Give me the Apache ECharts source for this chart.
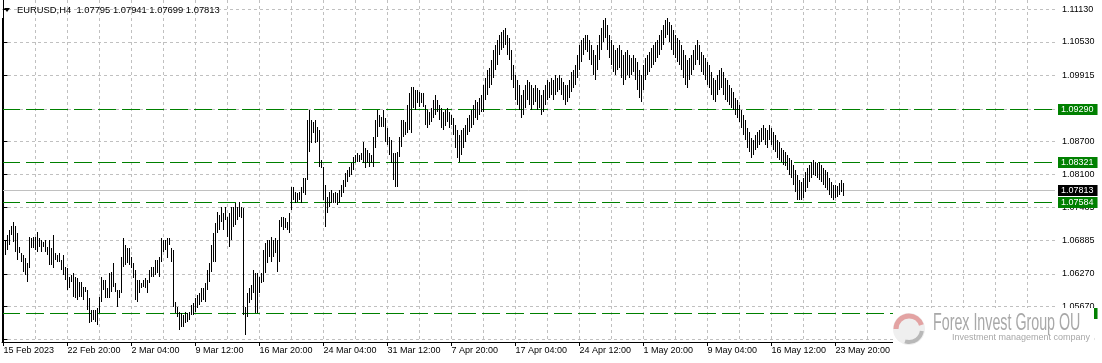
<!DOCTYPE html>
<html><head><meta charset="utf-8">
<script src="https://cdn.jsdelivr.net/npm/echarts@6/dist/echarts.min.js"></script>
<style>html,body{margin:0;padding:0;background:#fff}#c{width:1102px;height:363px}</style>
</head><body><div id="c"></div>
<script>
// ---- data ----
const symbolTitle = 'EURUSD,H4';
const lastBarOHLC = ['1.07795', '1.07941', '1.07699', '1.07813'];
const dateLabels = ['15 Feb 2023','22 Feb 20:00','2 Mar 04:00','9 Mar 12:00','16 Mar 20:00','24 Mar 04:00','31 Mar 12:00','7 Apr 20:00','17 Apr 04:00','24 Apr 12:00','1 May 20:00','9 May 04:00','16 May 12:00','23 May 20:00'];
const barsPerLabel = 32;
const barsPerGrid = 16;
const priceTicks = [1.11130,1.10530,1.09915,1.09290,1.08700,1.08100,1.07485,1.06885,1.06270,1.05670,1.05070];
const levelLines = [1.09290, 1.08321, 1.07584, 1.05545];
const bidPrice = 1.07813;
const highs = [
1.0733,1.0689,1.0698,1.0708,1.0715,1.0722,1.0715,1.0702,1.0676,1.0665,1.0662,1.0656,1.0647,1.0695,1.0693,1.0695,
1.0695,1.0704,1.0693,1.0689,1.0686,1.0689,1.0676,1.0689,1.0675,1.0698,1.0665,1.0662,1.0665,1.0652,1.0662,1.0640,
1.0638,1.0621,1.0625,1.0629,1.0621,1.0619,1.0612,1.0612,1.0603,1.0603,1.0597,1.0583,1.0561,1.0561,1.0561,1.0564,
1.0584,1.0621,1.0616,1.0616,1.0601,1.0629,1.0630,1.0647,1.0610,1.0597,1.0597,1.0658,1.0693,1.0680,1.0675,1.0675,
1.0658,1.0647,1.0634,1.0616,1.0616,1.0610,1.0616,1.0619,1.0616,1.0634,1.0640,1.0640,1.0652,1.0652,1.0658,1.0693,
1.0689,1.0689,1.0693,1.0693,1.0675,1.0671,1.0575,1.0566,1.0557,1.0555,1.0551,1.0557,1.0555,1.0557,1.0570,1.0573,
1.0583,1.0588,1.0592,1.0601,1.0601,1.0610,1.0634,1.0647,1.0680,1.0702,1.0720,1.0741,1.0735,1.0750,1.0739,1.0750,
1.0731,1.0739,1.0750,1.0750,1.0757,1.0750,1.0759,1.0750,1.0748,1.0566,1.0592,1.0601,1.0607,1.0634,1.0629,1.0629,
1.0621,1.0629,1.0671,1.0684,1.0689,1.0689,1.0695,1.0689,1.0693,1.0689,1.0726,1.0731,1.0731,1.0730,1.0722,1.0739,
1.0787,1.0787,1.0777,1.0775,1.0777,1.0787,1.0803,1.0803,1.0910,1.0928,1.0910,1.0906,1.0910,1.0897,1.0891,1.0836,
1.0823,1.0790,1.0768,1.0777,1.0781,1.0775,1.0777,1.0775,1.0781,1.0790,1.0799,1.0812,1.0818,1.0823,1.0831,1.0842,
1.0845,1.0849,1.0845,1.0849,1.0869,1.0858,1.0855,1.0849,1.0845,1.0878,1.0910,1.0928,1.0919,1.0915,1.0928,1.0913,
1.0895,1.0878,1.0873,1.0849,1.0849,1.0851,1.0878,1.0910,1.0910,1.0906,1.0937,1.0959,1.0970,1.0970,1.0965,1.0965,
1.0961,1.0959,1.0959,1.0937,1.0928,1.0924,1.0932,1.0946,1.0956,1.0946,1.0937,1.0932,1.0924,1.0928,1.0932,1.0924,
1.0919,1.0913,1.0900,1.0891,1.0882,1.0891,1.0895,1.0900,1.0913,1.0919,1.0928,1.0937,1.0946,1.0943,1.0950,1.0956,
1.0974,1.0987,1.1002,1.1005,1.1020,1.1038,1.1047,1.1057,1.1066,1.1071,1.1075,1.1079,1.1066,1.1060,1.1038,1.1011,
1.0992,1.0983,1.0974,1.0956,1.0965,1.0974,1.0983,1.0979,1.0974,1.0968,1.0974,1.0968,1.0965,1.0956,1.0965,1.0974,
1.0983,1.0979,1.0987,1.0983,1.0992,1.0987,1.0992,1.0987,1.0979,1.0974,1.0974,1.0983,1.0998,1.1002,1.1011,1.1029,
1.1047,1.1057,1.1060,1.1066,1.1066,1.1057,1.1047,1.1038,1.1029,1.1047,1.1066,1.1079,1.1093,1.1097,1.1084,1.1066,
1.1057,1.1047,1.1038,1.1042,1.1047,1.1038,1.1029,1.1035,1.1038,1.1029,1.1024,1.1029,1.1024,1.1016,1.1002,1.0992,
1.1011,1.1024,1.1029,1.1035,1.1042,1.1047,1.1053,1.1057,1.1066,1.1075,1.1084,1.1093,1.1097,1.1090,1.1084,1.1075,
1.1066,1.1060,1.1057,1.1047,1.1038,1.1029,1.1020,1.1024,1.1029,1.1038,1.1047,1.1057,1.1047,1.1035,1.1029,1.1024,
1.1016,1.1011,1.0998,1.0987,1.0983,1.0992,1.1002,1.1005,1.0998,1.0987,1.0983,1.0974,1.0968,1.0961,1.0950,1.0946,
1.0937,1.0928,1.0919,1.0910,1.0895,1.0888,1.0877,1.0873,1.0882,1.0888,1.0891,1.0895,1.0900,1.0895,1.0891,1.0900,
1.0895,1.0888,1.0882,1.0873,1.0869,1.0858,1.0855,1.0851,1.0845,1.0840,1.0836,1.0827,1.0818,1.0809,1.0799,1.0796,
1.0803,1.0814,1.0821,1.0827,1.0832,1.0836,1.0832,1.0831,1.0832,1.0827,1.0821,1.0818,1.0814,1.0803,1.0796,1.0790,
1.0790,1.0788,1.0794,1.0799,1.0794
];
const lows = [
1.0671,1.0662,1.0671,1.0680,1.0698,1.0686,1.0667,1.0652,1.0665,1.0649,1.0630,1.0625,1.0612,1.0638,1.0675,1.0675,
1.0671,1.0667,1.0676,1.0667,1.0676,1.0667,1.0662,1.0643,1.0643,1.0638,1.0652,1.0649,1.0649,1.0634,1.0625,1.0616,
1.0597,1.0601,1.0612,1.0584,1.0583,1.0579,1.0584,1.0584,1.0579,1.0594,1.0561,1.0537,1.0539,1.0542,1.0539,1.0533,
1.0555,1.0575,1.0597,1.0583,1.0583,1.0583,1.0594,1.0603,1.0594,1.0566,1.0583,1.0592,1.0640,1.0643,1.0647,1.0643,
1.0638,1.0619,1.0579,1.0575,1.0592,1.0601,1.0603,1.0601,1.0592,1.0610,1.0621,1.0621,1.0625,1.0629,1.0621,1.0649,
1.0667,1.0671,1.0656,1.0680,1.0649,1.0566,1.0555,1.0548,1.0524,1.0529,1.0529,1.0537,1.0539,1.0542,1.0551,1.0551,
1.0557,1.0564,1.0570,1.0575,1.0579,1.0575,1.0597,1.0612,1.0630,1.0649,1.0649,1.0702,1.0708,1.0722,1.0708,1.0726,
1.0695,1.0676,1.0689,1.0713,1.0717,1.0726,1.0731,1.0730,1.0551,1.0515,1.0548,1.0573,1.0579,1.0592,1.0555,1.0555,
1.0592,1.0610,1.0612,1.0629,1.0647,1.0658,1.0649,1.0658,1.0665,1.0630,1.0649,1.0713,1.0708,1.0711,1.0708,1.0702,
1.0744,1.0763,1.0757,1.0759,1.0763,1.0757,1.0775,1.0772,1.0799,1.0851,1.0867,1.0886,1.0867,1.0869,1.0823,1.0822,
1.0763,1.0713,1.0739,1.0750,1.0757,1.0757,1.0757,1.0754,1.0757,1.0768,1.0775,1.0787,1.0796,1.0805,1.0809,1.0818,
1.0833,1.0833,1.0833,1.0836,1.0831,1.0822,1.0831,1.0823,1.0831,1.0823,1.0858,1.0878,1.0897,1.0897,1.0897,1.0869,
1.0864,1.0845,1.0831,1.0799,1.0787,1.0787,1.0842,1.0860,1.0878,1.0882,1.0886,1.0891,1.0886,1.0932,1.0928,1.0941,
1.0934,1.0941,1.0934,1.0900,1.0895,1.0900,1.0906,1.0913,1.0919,1.0924,1.0910,1.0895,1.0891,1.0899,1.0906,1.0895,
1.0900,1.0882,1.0858,1.0840,1.0832,1.0845,1.0858,1.0869,1.0882,1.0888,1.0895,1.0900,1.0913,1.0910,1.0919,1.0924,
1.0924,1.0946,1.0956,1.0968,1.0974,1.0987,1.1002,1.1011,1.1029,1.1038,1.1042,1.1047,1.1029,1.1020,1.0983,1.0968,
1.0946,1.0937,1.0928,1.0913,1.0919,1.0932,1.0946,1.0937,1.0928,1.0937,1.0943,1.0928,1.0932,1.0919,1.0924,1.0937,
1.0946,1.0950,1.0956,1.0946,1.0956,1.0961,1.0965,1.0956,1.0946,1.0937,1.0943,1.0950,1.0961,1.0968,1.0974,1.0987,
1.1002,1.1016,1.1029,1.1038,1.1035,1.1020,1.1011,1.0992,1.0983,1.1002,1.1020,1.1038,1.1053,1.1060,1.1038,1.1024,
1.1011,1.0998,1.0992,1.1002,1.1005,1.0987,1.0974,1.0983,1.0992,1.0987,1.0992,1.0998,1.0983,1.0965,1.0950,1.0943,
1.0965,1.0983,1.0992,1.0998,1.1005,1.1011,1.1016,1.1024,1.1029,1.1038,1.1047,1.1060,1.1066,1.1053,1.1038,1.1029,
1.1024,1.1016,1.1011,1.1002,1.0987,1.0974,1.0968,1.0983,1.0992,1.1002,1.1011,1.1020,1.1011,1.0998,1.0992,1.0983,
1.0974,1.0968,1.0956,1.0946,1.0943,1.0956,1.0965,1.0968,1.0956,1.0946,1.0943,1.0937,1.0932,1.0928,1.0919,1.0913,
1.0906,1.0895,1.0882,1.0873,1.0858,1.0851,1.0840,1.0845,1.0855,1.0858,1.0864,1.0869,1.0873,1.0864,1.0858,1.0873,
1.0864,1.0855,1.0851,1.0840,1.0836,1.0832,1.0827,1.0825,1.0818,1.0809,1.0803,1.0790,1.0777,1.0763,1.0763,1.0763,
1.0766,1.0777,1.0785,1.0796,1.0803,1.0809,1.0807,1.0803,1.0799,1.0796,1.0790,1.0785,1.0781,1.0772,1.0766,1.0763,
1.0766,1.0768,1.0772,1.0777,1.0770
];

// ---- derived ----
const labelBars = dateLabels.map((_, k) => k * barsPerLabel);
const gridBars = [];
for (let v = barsPerGrid; v <= 525; v += barsPerGrid) gridBars.push(v);
const barData = highs.map((h, i) => [i, h, lows[i]]);
const FONT = "'Liberation Sans', Arial, sans-serif";

const chart = echarts.init(document.getElementById('c'), null, {renderer: 'canvas'});

function levelRender(color, dash, boxColor) {
  return (params, api) => {
    const cs = params.coordSys;
    const v = api.value(1);
    const y = Math.round(api.coord([0, v])[1]) + 0.5;
    const x1 = cs.x, x2 = cs.x + cs.width;
    return {type: 'group', children: [
      {type: 'line', shape: {x1: x1, y1: y, x2: x2, y2: y},
       style: {stroke: color, lineWidth: 1, lineDash: dash}},
      {type: 'text', x: x2 + 3, y: y, style: {text: v.toFixed(5), fill: '#fff', font: '9px ' + FONT,
        verticalAlign: 'middle', backgroundColor: boxColor, padding: [1, 4, 1, 3]}}
    ]};
  };
}

const option = {
  animation: false,
  backgroundColor: '#fff',
  grid: {left: 2, right: 47, top: 0, bottom: 21},
  xAxis: [
    {type: 'value', min: -0.75, max: 525.75, position: 'bottom',
     axisLine: {show: false}, axisTick: {show: false, customValues: gridBars},
     axisLabel: {show: false, customValues: gridBars},
     splitLine: {show: true, lineStyle: {color: '#c0c0c0', type: [3, 3], width: 1}}},
    {type: 'value', min: -0.75, max: 525.75, position: 'bottom',
     axisLine: {show: true, lineStyle: {color: '#000', width: 1}},
     axisTick: {show: true, customValues: labelBars, length: 4, lineStyle: {color: '#000'}},
     axisLabel: {customValues: labelBars, formatter: v => dateLabels[Math.round(v / barsPerLabel)],
       align: 'left', margin: 4, fontSize: 9, color: '#000', fontFamily: FONT},
     splitLine: {show: false}}
  ],
  yAxis: {type: 'value', position: 'right', min: 1.05018, max: 1.11301,
    axisLine: {show: true, lineStyle: {color: '#000', width: 1}},
    axisTick: {show: true, customValues: priceTicks, length: 4, lineStyle: {color: '#000'}},
    axisLabel: {customValues: priceTicks, formatter: v => v.toFixed(5), margin: 7, fontSize: 9,
      color: '#000', fontFamily: FONT},
    splitLine: {show: true, lineStyle: {color: '#c0c0c0', type: [3, 3], width: 1}}},
  series: [
    {type: 'custom', xAxisIndex: 0, z: 1, clip: false, silent: true,
     data: [[0, bidPrice]], renderItem: levelRender('#c0c0c0', null, '#000')},
    {type: 'custom', xAxisIndex: 0, z: 2, clip: false, silent: true,
     data: levelLines.map(v => [0, v]), renderItem: levelRender('#008000', [18, 6], '#008000')},
    {type: 'custom', xAxisIndex: 0, z: 3, clip: true, data: barData,
     renderItem: (params, api) => {
       const a = api.coord([api.value(0), api.value(1)]);
       const b = api.coord([api.value(0), api.value(2)]);
       const x = Math.round(a[0] - 0.5);
       const y1 = Math.round(a[1]);
       const h = Math.max(1, Math.round(b[1]) - y1);
       return {type: 'rect', shape: {x: x, y: y1, width: 1, height: h}, style: {fill: '#000'}};
     }}
  ],
  graphic: [
    {type: 'line', z: 50, shape: {x1: 2.5, y1: 18, x2: 2.5, y2: 342}, style: {stroke: '#000', lineWidth: 1}},
    {type: 'polygon', z: 50, shape: {points: [[4, 8], [10, 8], [7, 12]]}, style: {fill: '#000'}},
    {type: 'text', z: 50, x: 17, y: 10, style: {text: symbolTitle + '  ' + lastBarOHLC.join(' '),
      fill: '#000', font: '9.4px ' + FONT, textVerticalAlign: 'middle'}},
    {type: 'rect', z: 100, shape: {x: 893, y: 308, width: 201, height: 55}, style: {fill: '#fff'}},
    {type: 'circle', z: 101, shape: {cx: 909, cy: 329, r: 16}, style: {fill: '#efefef'}},
    {type: 'arc', z: 102, shape: {cx: 909, cy: 329, r: 13, startAngle: Math.PI * 1.0, endAngle: Math.PI * 1.9}, style: {stroke: '#e3a3a3', lineWidth: 5, fill: null}},
    {type: 'arc', z: 102, shape: {cx: 909, cy: 329, r: 13, startAngle: Math.PI * 0.05, endAngle: Math.PI * 0.6}, style: {stroke: '#b8b8b8', lineWidth: 4, fill: null}},
    {type: 'text', z: 101, x: 933, y: 324, scaleX: 0.62, style: {text: 'Forex Invest Group OU', fill: '#a8a8a8',
      font: '23px ' + FONT, textVerticalAlign: 'middle'}},
    {type: 'text', z: 101, x: 952, y: 338, style: {text: 'Investment management company', fill: '#a8a8a8',
      font: '9px ' + FONT, textVerticalAlign: 'middle'}}
  ]
};
chart.setOption(option);
</script></body></html>
